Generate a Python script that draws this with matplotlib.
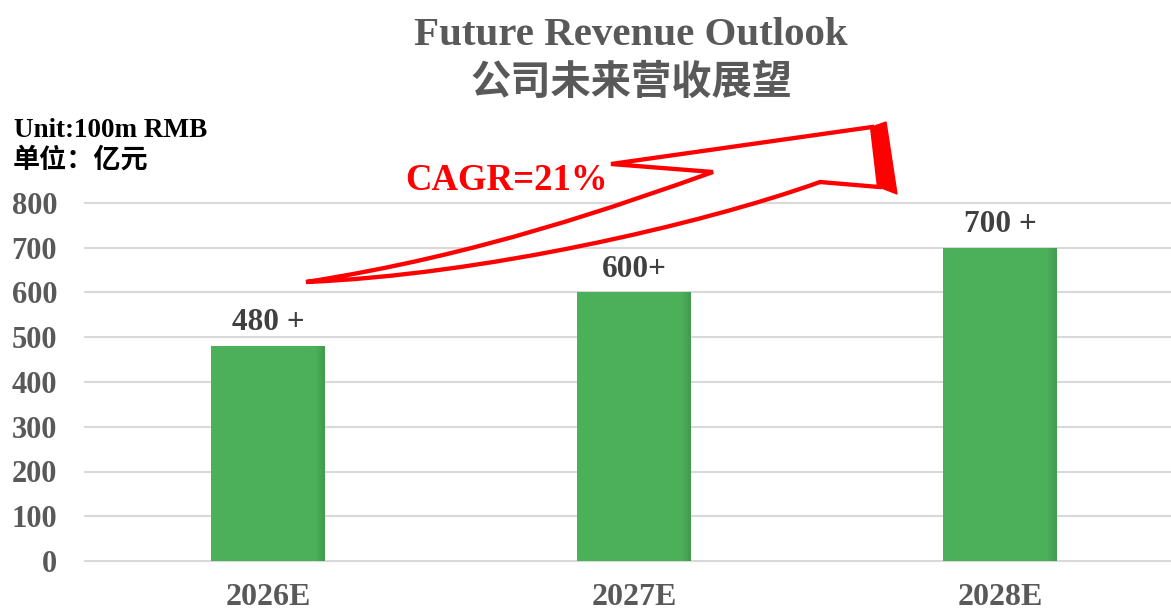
import matplotlib
matplotlib.use("Agg")
import matplotlib.pyplot as plt
from matplotlib.path import Path
from matplotlib.patches import PathPatch, Polygon

# ---- data ----
categories = ["2026E", "2027E", "2028E"]
values = [480, 600, 700]
value_labels = ["480 +", "600+", "700 +"]
y_ticks = [0, 100, 200, 300, 400, 500, 600, 700, 800]

title_en = "Future Revenue Outlook"
title_cn = "公司未来营收展望"
unit_en = "Unit:100m RMB"
unit_cn = "单位：亿元"
cagr_text = "CAGR=21%"

W, H = 1171, 612
DPI = 100
SERIF = ["Liberation Serif", "DejaVu Serif"]
CJK = ["Noto Sans CJK SC", "DejaVu Sans"]

fig = plt.figure(figsize=(W / DPI, H / DPI), dpi=DPI)
fig.patch.set_facecolor("white")

def px(x, y):
    return (x / W, 1 - y / H)

ax_left, ax_right, ax_top, ax_bottom = 85, 1171, 203, 561
ax = fig.add_axes([ax_left / W, 1 - ax_bottom / H, (ax_right - ax_left) / W, (ax_bottom - ax_top) / H])
ax.set_xlim(-0.5, 2.467)
ax.set_ylim(0, 800)
for s in ax.spines.values():
    s.set_visible(False)

for t in y_ticks:
    ax.axhline(t, color="#D9D9D9", lw=1.5, zorder=0, clip_on=False)

x = list(range(len(categories)))
bw = 0.311
bar_color = "#4CAF5A"
ax.bar(x, values, width=bw, color=bar_color, zorder=2)
# subtle darker right-edge shading
nstrip = 6
sw = 0.024 / nstrip
for i in range(nstrip):
    ax.bar([xi + bw / 2 - sw * (nstrip - i) + sw / 2 for xi in x], values, width=sw,
           color="#2E7D3A", alpha=0.06 + 0.06 * i, lw=0, zorder=3)

for xi, v, lab in zip(x, values, value_labels):
    ax.annotate(lab, (xi, v), xytext=(0, 11.5), textcoords="offset points",
                ha="center", va="baseline", fontsize=22.5, fontweight="bold",
                color="#404040", family=SERIF)

ax.set_yticks(y_ticks)
ax.set_yticklabels([str(t) for t in y_ticks], fontsize=22, fontweight="bold",
                   color="#595959", family=SERIF)
ax.set_xticks(x)
ax.set_xticklabels(categories, fontsize=23, fontweight="bold", color="#595959", family=SERIF)
ax.tick_params(axis="y", length=0, pad=20)
ax.tick_params(axis="x", length=0, pad=16)

# titles
fig.text(*px(631, 45), title_en, ha="center", va="baseline", fontsize=29.5,
         fontweight="bold", color="#595959", family=SERIF)
fig.text(*px(631, 82), title_cn, ha="center", va="center", fontsize=29,
         fontweight="bold", color="#595959", family=CJK)

fig.text(*px(14, 137), unit_en, ha="left", va="baseline", fontsize=19.5,
         fontweight="bold", color="black", family=SERIF)
fig.text(*px(13, 160), unit_cn, ha="left", va="center", fontsize=19.5,
         fontweight="bold", color="black", family=CJK)

fig.text(*px(405, 190), cagr_text, ha="left", va="baseline", fontsize=26.5,
         fontweight="bold", color="#FF0000", family=SERIF)

# curved arrow (decoration, figure pixel coords)
pts = [
    ((306, 282), Path.MOVETO),
    ((480, 255), Path.CURVE4), ((620, 205), Path.CURVE4), ((713, 172), Path.CURVE4),
    ((611, 164), Path.LINETO),
    ((872, 127), Path.LINETO),
    ((879, 187), Path.LINETO),
    ((820, 182), Path.LINETO),
    ((700, 225), Path.CURVE4), ((480, 275), Path.CURVE4), ((306, 282), Path.CURVE4),
    ((306, 282), Path.CLOSEPOLY),
]
verts = [px(*p) for p, _ in pts]
codes = [c for _, c in pts]
arrow = PathPatch(Path(verts, codes), facecolor="white", edgecolor="#FF0000", lw=3.1,
                  transform=fig.transFigure, joinstyle="miter", zorder=5)
fig.patches.append(arrow)
side = Polygon([px(872, 127), px(886, 122), px(897, 194), px(879, 187)], closed=True,
               facecolor="#FF0000", edgecolor="#FF0000", lw=1, transform=fig.transFigure, zorder=6)
fig.patches.append(side)

fig.savefig("out.png", dpi=DPI, facecolor="white")
